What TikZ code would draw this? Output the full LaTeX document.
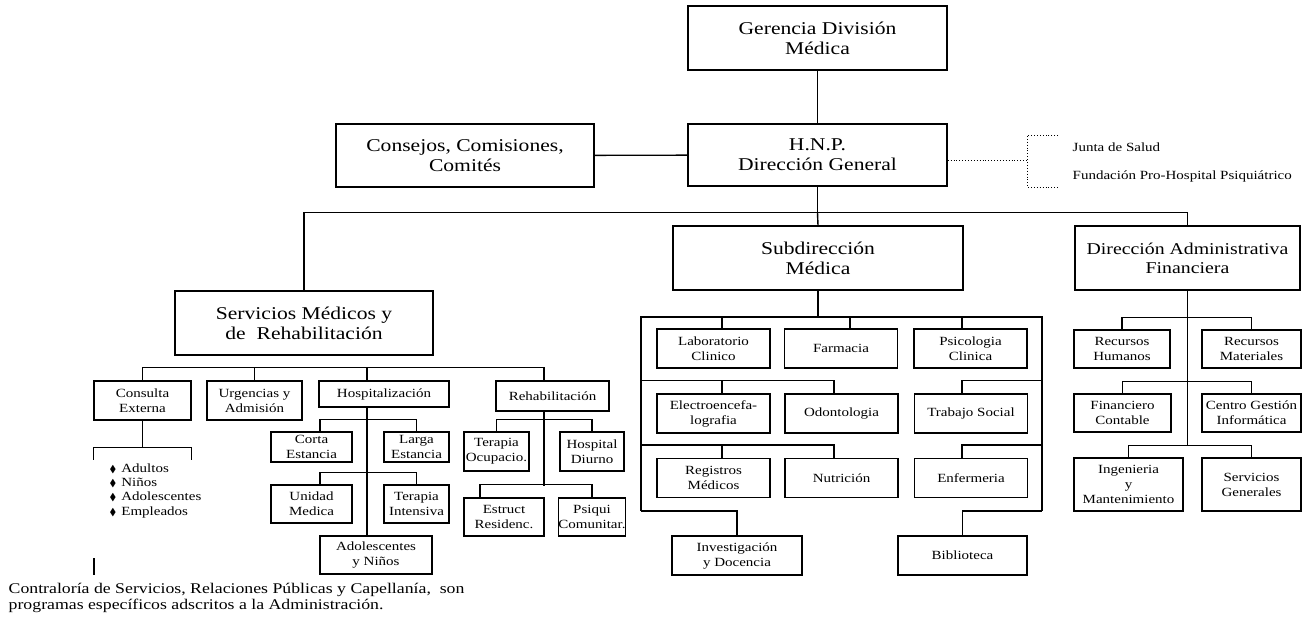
\documentclass[tikz,border=0pt]{standalone}
\usepackage{fontspec}
\setmainfont[FakeStretch=1.2]{Liberation Serif}
\usepackage{amssymb}

\begin{document}
\begin{tikzpicture}[x=1pt, y=-1pt, line width=1.4pt]
    % Styles for the boxes (y runs downward here)
    \tikzstyle{big box}=[draw, align=center, inner sep=0pt, font=\fontsize{18}{20}\selectfont]
    \tikzstyle{small box}=[draw, align=center, inner sep=0pt, font=\fontsize{12.5}{15}\selectfont]
    \tikzstyle{plain text}=[align=left, inner sep=0pt, font=\fontsize{12.5}{14.3}\selectfont]

    \useasboundingbox (0,0) rectangle (1312,618);
    \fill[white] (0,0) rectangle (1312,618);

    % Draw the top boxes
    \node[big box, minimum width=259pt, minimum height=64pt] (ger) at (817.5,38) {Gerencia División\\Médica};
    \node[big box, minimum width=259pt, minimum height=62pt] (hnp) at (817.5,155) {H.N.P.\\Dirección General};
    \node[big box, minimum width=258pt, minimum height=63pt] (cons) at (465,155.5) {Consejos, Comisiones,\\Comités};
    \node[big box, minimum width=290pt, minimum height=64pt] (subd) at (818,258) {Subdirección\\Médica};
    \node[big box, minimum width=225pt, minimum height=64pt, font=\fontsize{16.5}{19}\selectfont] (dadm) at (1187.5,258) {Dirección Administrativa\\Financiera};
    \node[big box, minimum width=258pt, minimum height=64pt] (serv) at (304,323) {Servicios Médicos y\\de\ \ Rehabilitación};

    % Junta and Fundación beside the direction
    \node[plain text, anchor=west] (junta) at (1072,147) {Junta de Salud};
    \node[plain text, anchor=west] (fund) at (1072,176) {Fundación Pro-Hospital Psiquiátrico};

    % Boxes under Servicios Médicos
    \foreach \n/\x/\y/\w/\h/\t in {
        cext/142.5/400.5/97/39/{Consulta\\Externa},
        urg/254.5/400.5/95/39/{Urgencias y\\Admisión},
        hosp/384/394/130/26/{Hospitalización},
        rehab/552.5/396/113/30/{Rehabilitación},
        corta/311.5/447/81/30/{Corta\\Estancia},
        larga/416.5/447/65/30/{Larga\\Estancia},
        unid/311.5/504/81/38/{Unidad\\Medica},
        tint/416.5/504/65/38/{Terapia\\Intensiva},
        adol/376/555/112/38/{Adolescentes\\y Niños},
        tocup/496.5/451.5/65/39/{Terapia\\Ocupacio.},
        hdiur/592/451.5/64/39/{Hospital\\Diurno},
        estr/504/517/80/38/{Estruct\\Residenc.},
        psiq/592/517/64/38/{Psiqui\\Comunitar.}}
        \node[small box, minimum width=\w pt, minimum height=\h pt] (\n) at (\x,\y) {\t};

    % Boxes under Subdirección Médica
    \foreach \n/\x/\y/\t in {
        lab/713.5/348.5/{Laboratorio\\Clinico},
        farm/841/348.5/{Farmacia},
        psic/970.5/348.5/{Psicologia\\Clinica},
        elec/713.5/413.5/{Electroencefa-\\lografia},
        odon/841.5/413.5/{Odontologia},
        tsoc/971/413.5/{Trabajo Social},
        regm/713.5/478/{Registros\\Médicos},
        nutr/841.5/478/{Nutrición},
        enf/971/478/{Enfermeria}}
        \node[small box, minimum width=113pt, minimum height=39pt] (\n) at (\x,\y) {\t};
    \node[small box, minimum width=130pt, minimum height=39pt] (inv) at (737,555.5) {Investigación\\y Docencia};
    \node[small box, minimum width=129pt, minimum height=39pt] (bibl) at (962.5,555.5) {Biblioteca};

    % Boxes under Dirección Administrativa
    \foreach \n/\x/\y/\w/\h/\t in {
        rhum/1122/349/96/38/{Recursos\\Humanos},
        rmat/1251.5/349/99/38/{Recursos\\Materiales},
        fin/1122.5/413/97/38/{Financiero\\Contable},
        cgi/1251.5/413/99/38/{Centro Gestión\\Informática},
        ing/1128.5/484.5/109/53/{Ingenieria\\y\\Mantenimiento},
        sgen/1251.5/484.5/99/53/{Servicios\\Generales}}
        \node[small box, minimum width=\w pt, minimum height=\h pt] (\n) at (\x,\y) {\t};

    % Bullet list and the note
    \node[plain text, anchor=north west] (grupos) at (109,463) {%
        {\fontsize{10}{10}\selectfont$\blacklozenge$}\hspace{5pt}Adultos\\
        {\fontsize{10}{10}\selectfont$\blacklozenge$}\hspace{5pt}Niños\\
        {\fontsize{10}{10}\selectfont$\blacklozenge$}\hspace{5pt}Adolescentes\\
        {\fontsize{10}{10}\selectfont$\blacklozenge$}\hspace{5pt}Empleados};
    \node[anchor=north west, align=left, inner sep=0pt, font=\fontsize{14.8}{16}\selectfont] (nota) at (8,583)
        {Contraloría de Servicios, Relaciones Públicas y Capellanía,\ \ son\\programas específicos adscritos a la Administración.};
    \draw[line width=2.5pt] (94,558) -- (94,575);

    % Draw the lines at the top
    \draw (ger) -- (hnp);
    \draw (cons) -- (hnp);
    \draw (hnp.south) -- ++(0,26) coordinate (tb);
    \draw (serv.north) |- (tb) -| (dadm.north);
    \draw (tb) -- (subd.north);

    % Dotted bracket
    \coordinate (jb) at (1027,160);
    \draw[dotted, line width=0.9pt] ([yshift=-5pt]hnp.east) -- (jb);
    \draw[dotted, line width=0.9pt] (jb) ++(31,-25) -- ++(-31,0) -- ++(0,52) -- ++(31,0);

    % Lines of Servicios Médicos
    \coordinate (hsp) at ([xshift=-17pt]hosp.south);
    \coordinate (rsp) at ([xshift=-8.5pt]rehab.south);
    \draw (cext.north) -- ++(0,-13) coordinate (sb) -| (rsp |- rehab.north);
    \draw (urg.north) -- (urg.north |- sb);
    \draw (hsp |- hosp.north) -- (hsp |- sb);
    \draw (cext.south) -- ++(0,27) coordinate (cb);
    \draw (cb -| cext.west) ++(0,12) -- ++(0,-12) -- (cb -| cext.east) -- ++(0,12);
    \draw (hsp) -- (hsp |- adol.north);
    \draw ([xshift=8.5pt]corta.north) -- ++(0,-12) -| (larga.north);
    \draw ([xshift=8.5pt]unid.north) -- ++(0,-12) -| (tint.north);
    \draw (rsp) -- ++(0,74);
    \draw (tocup.north) -- ++(0,-12) -| (hdiur.north);
    \draw ([xshift=-24pt]estr.north) -- ++(0,-13) -| (psiq.north);

    % Frame of Subdirección Médica
    \coordinate (ftl) at (641,317);
    \coordinate (ftr) at (1042,317);
    \coordinate (fbl) at (641,511);
    \coordinate (fbr) at (1042,511);
    \draw (subd.south) -- (subd.south |- ftl);
    \draw (fbl) -- (ftl) -- (ftr) -- (fbr);
    \foreach \n/\s in {lab/8.5, farm/9, psic/-8.5}
        \draw ([xshift=\s pt]\n.north) -- ++(0,-12);
    \foreach \a/\b/\c in {elec/odon/tsoc, regm/nutr/enf} {
        \draw ([xshift=8.5pt]\a.north) -- ++(0,-13);
        \draw ([xshift=-7.5pt]\b.north) -- ++(0,-13) coordinate (tmp) -- (tmp -| ftl);
        \draw ([xshift=-9pt]\c.north) -- ++(0,-13) coordinate (tmp) -- (tmp -| ftr);
    }
    \draw (inv.north) |- (fbl);
    \draw (bibl.north) |- (fbr);

    % Lines of Dirección Administrativa
    \draw (dadm.south) -- ([yshift=12pt]dadm.south |- ing.north);
    \foreach \a/\b in {rhum/rmat, fin/cgi, ing/sgen}
        \draw (\a.north) -- ++(0,-12) -| (\b.north);

\end{tikzpicture}
\end{document}
